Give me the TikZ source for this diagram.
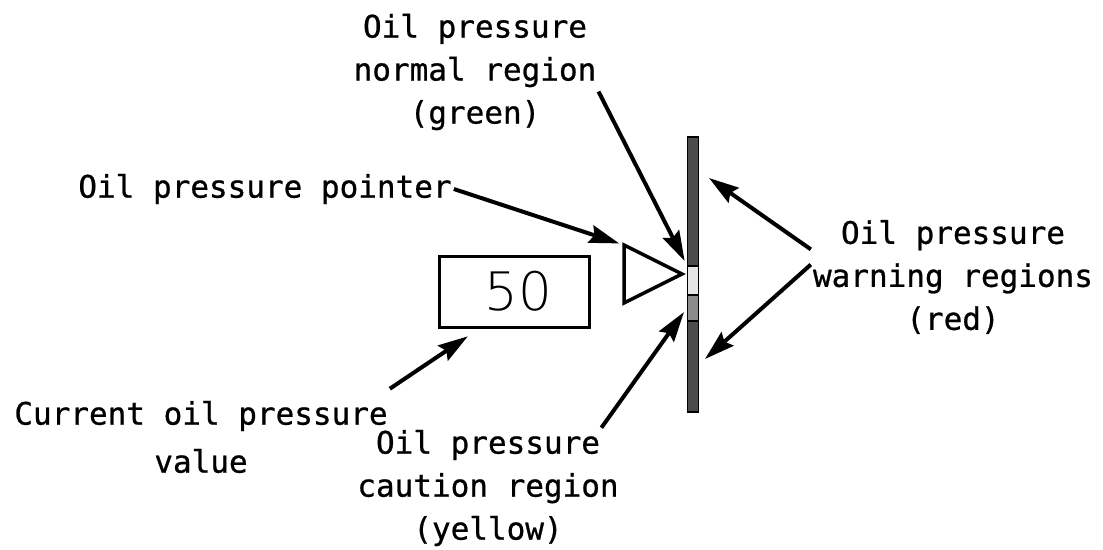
\documentclass[tikz,border=0pt]{standalone}
\usepackage{fontspec}
\setmainfont{DejaVu Sans Mono}[FakeBold=0.8]
\newfontfamily\digitfont{DejaVu Sans ExtraLight}
\usetikzlibrary{positioning,arrows.meta,shapes.geometric,calc}

\begin{document}
\begin{tikzpicture}[
  x=1pt, y=-1pt,
  txt/.style={align=center, inner sep=2pt, font=\fontsize{31}{43}\selectfont},
  valbox/.style={draw, line width=3pt, minimum width=150pt, minimum height=71pt,
                 inner sep=0pt, font=\digitfont\fontsize{53}{60}\selectfont},
  ptrshape/.style={draw, line width=3.5pt, isosceles triangle, isosceles triangle stretches,
                   minimum width=58pt, minimum height=58pt, inner sep=0pt, outer sep=0pt},
  seg/.style={draw, line width=1.2pt, minimum width=11pt, inner sep=0pt},
  arrow/.style={-{Stealth[length=30pt,width=18pt,inset=4pt]}, line width=4pt}
]
  \fill[white] (0,0) rectangle (1103,549);

  % gauge
  \node[valbox] (val) at (514,291.5) {\,50};
  \node[ptrshape, anchor=apex] (ptr) at (682,274) {};
  \node[seg, fill=black!70, minimum height=275pt] (bar) at (693,274.5) {};
  \node[seg, fill=black!10, minimum height=29pt] (grn) at (693,280.5) {};
  \node[seg, fill=black!45, minimum height=26pt] (ylw) at (693,308) {};

  % labels
  \node[txt] (ptrlbl) at (265,189) {Oil pressure pointer};
  \node[txt] (norm) at (475,72) {Oil pressure\\normal region\\(green)};
  \node[txt] (caut) at (488,488) {Oil pressure\\caution region\\(yellow)};
  \node[txt] (warn) at (953,277) {Oil pressure\\warning regions\\(red)};
  \node[txt] (cur) at (201,437) {Current oil pressure\\[5pt]value};

  \coordinate (redhi) at (709,178);
  \coordinate (redlo) at (705,359);

  \draw[arrow, shorten >=5pt] (ptrlbl.east) -- (ptr.left corner);
  \draw[arrow, shorten >=5pt] (norm.-9) -- (grn.north west);
  \draw[arrow, shorten >=5pt] (caut.28) -- (ylw.west);
  \draw[arrow] (warn.169) -- (redhi);
  \draw[arrow] (warn.175) -- (redlo);
  \draw[arrow, shorten >=14pt] ([yshift=10pt]cur.north east) -- (val.227);
\end{tikzpicture}
\end{document}
